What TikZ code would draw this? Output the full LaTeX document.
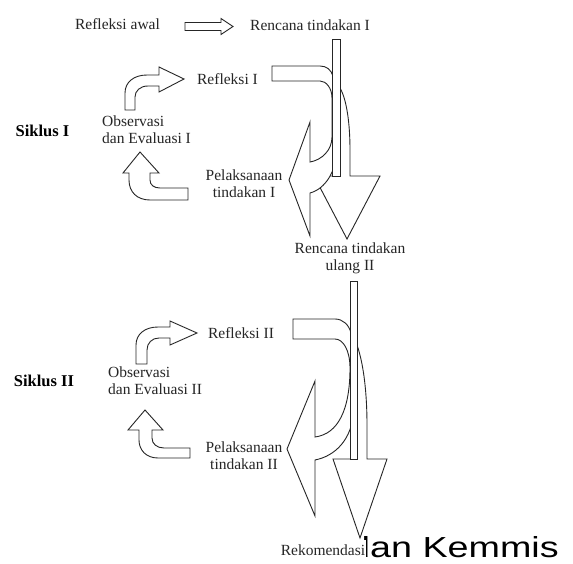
\documentclass[tikz,border=0pt]{standalone}
\usepackage{fontspec}
\usepackage{graphicx}
\setmainfont{Liberation Serif}
\newfontfamily\arialf{Liberation Sans}
\begin{document}
\begin{tikzpicture}[x=1pt,y=-1pt,
  blk/.style={draw=black!85, fill=white, line width=0.9pt, line join=miter},
  lbl/.style={inner sep=0pt, font=\fontsize{15.5}{17}\selectfont, text=black!85},
  lblc/.style={lbl, align=center},
  lbll/.style={lbl, align=left},
  sik/.style={inner sep=0pt, font=\fontsize{16.5}{17}\selectfont\bfseries, text=black}]
\useasboundingbox (0,0) rectangle (573,564);
\fill[white] (0,0) rectangle (573,564);

% ---------- texts ----------
\node[lbl] (ra) at (117.5,24) {Refleksi awal};
\node[lbl] (rt1) at (310,25) {Rencana tindakan I};
\node[lbl] (rf1) at (227.5,79) {Refleksi I};
\node[lbll, anchor=west] (ob1) at (102,130) {Observasi\\dan Evaluasi I};
\node[sik] (s1) at (42.5,131) {Siklus I};
\node[lblc] (pl1) at (244,183.5) {Pelaksanaan\\tindakan I};
\node[lblc] (rt2) at (350,258.5) {Rencana tindakan\\ulang II};
\node[lbl] (rf2) at (241,333) {Refleksi II};
\node[lbll, anchor=west] (ob2) at (108,380.5) {Observasi\\dan Evaluasi II};
\node[sik] (s2) at (44,381) {Siklus II};
\node[lblc] (pl2) at (244,456) {Pelaksanaan\\tindakan II};
\node[inner sep=0pt, anchor=base west, font=\arialf\fontsize{29}{31}\selectfont, text=black] (dk) at (349,557) {\scalebox{1.3}[1]{dan Kemmis}};
\node[lbl, fill=white, inner xsep=0.5pt, inner ysep=5pt] (rk) at (323,550) {Rekomendasi};

% ---------- top straight arrow ----------
\draw[blk] (185,22.5) -- (221,22.5) -- (221,18.5) -- (233,26.5) -- (221,34.5) -- (221,30.5) -- (185,30.5) -- cycle;

% ---------- cycle I ----------
% down arrow
\draw[blk] (340,88) .. controls (347,100) and (350,125) .. (350,150) -- (350,176) -- (380,176) -- (347,239) -- (314,176) -- (340,176) -- cycle;
% curved left arrow
\draw[blk] (272,66) -- (320,66) .. controls (327,66) and (331,70) .. (333,76) -- (337,90) -- (337,150)
  .. controls (336,172) and (325,189) .. (310,193) -- (310,236) -- (289,180) -- (310,122) -- (310,162)
  .. controls (322,160) and (332,150) .. (332,137) -- (332,98) .. controls (332,88) and (326,81) .. (320,81) -- (272,81) -- cycle;
% bar
\draw[blk] (332,39) rectangle (340,176);
% upper left arrow
\draw[blk] (125,110) -- (125,93) .. controls (125,82) and (134,75) .. (147,75) -- (159,75) -- (159,67) -- (184,79) -- (159,92) -- (159,86) -- (148,86) .. controls (140,86) and (135,91) .. (135,97) -- (135,110) -- cycle;
% lower left arrow
\draw[blk] (188,200) -- (150,200) .. controls (137,200) and (129,192) .. (129,180) -- (129,173) -- (123,173) -- (140,152) -- (159,173) -- (150,173) -- (150,180) .. controls (150,185) and (154,188) .. (160,188) -- (188,188) -- cycle;

% ---------- cycle II ----------
\draw[blk] (357,345) .. controls (364,365) and (367,395) .. (367,425) -- (367,459) -- (387,459) -- (360,538) -- (333,459) -- (357,459) -- cycle;
\draw[blk] (293,319) -- (335,319) .. controls (343,319) and (349,325) .. (351,333) -- (354,345) -- (354,410)
  .. controls (352,440) and (335,456) .. (315,460) -- (315,516) -- (287,449) -- (315,381) -- (315,437)
  .. controls (338,434) and (350,410) .. (350,368) .. controls (350,350) and (343,339) .. (335,339) -- (293,339) -- cycle;
\draw[blk] (350,281) rectangle (357,459);
\draw[blk] (136,364) -- (136,345) .. controls (136,334) and (145,327) .. (158,327) -- (170,327) -- (170,321) -- (197,333) -- (170,345) -- (170,338) -- (159,338) .. controls (152,338) and (147,343) .. (147,350) -- (147,364) -- cycle;
\draw[blk] (190,458) -- (158,458) .. controls (146,458) and (139,450) .. (139,440) -- (139,430) -- (128,430) -- (145,410) -- (163,430) -- (152,430) -- (152,438) .. controls (152,444) and (157,448) .. (164,448) -- (190,448) -- cycle;
\end{tikzpicture}
\end{document}
